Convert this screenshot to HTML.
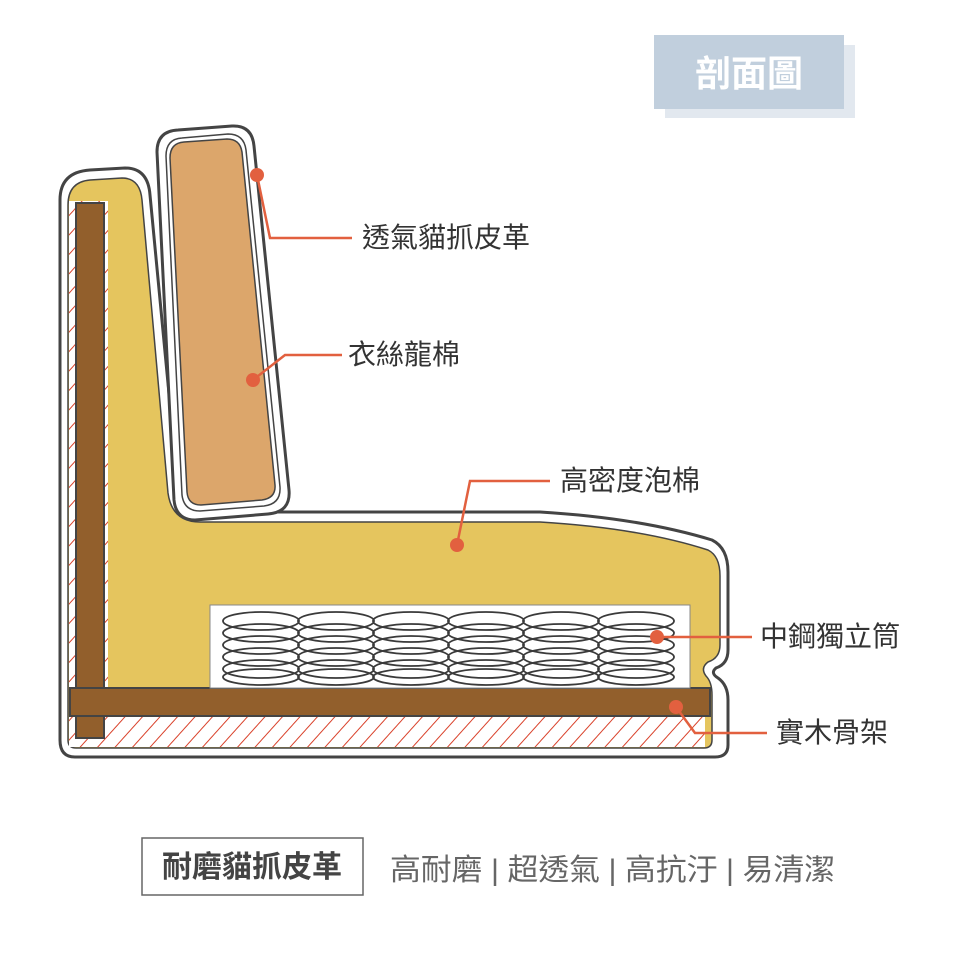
<!DOCTYPE html>
<html><head><meta charset="utf-8"><style>
html,body{margin:0;padding:0;background:#fff;}
svg{display:block;}
text{font-family:"Liberation Sans","Noto Sans CJK TC",sans-serif;}
</style></head><body>
<svg width="960" height="960" viewBox="0 0 960 960" xmlns="http://www.w3.org/2000/svg">
<defs>
<pattern id="hatch" width="13" height="13" patternUnits="userSpaceOnUse" patternTransform="rotate(42)">
<rect width="13" height="13" fill="#fff"/>
<line x1="0" y1="0" x2="0" y2="13" stroke="#d9412a" stroke-width="2"/>
</pattern>
</defs>
<!-- title -->
<rect x="665" y="45" width="190" height="73" fill="#e2e8ef"/>
<rect x="654" y="35" width="190" height="74" fill="#c1cfdd"/>
<text x="749" y="86" font-size="36" fill="#fff" text-anchor="middle" font-weight="bold">剖面圖</text>

<!-- body outline -->
<path d="M60,200 Q60,172 90,170 L125,168 Q148,168 150,195 L178,488 Q182,512 210,512 L540,512 Q640,518 712,540 Q728,548 728,572 L728,650 Q728,664 716,668 Q710,673 718,678 Q728,685 728,700 L728,745 Q728,757 715,757 L75,757 Q60,757 60,740 Z" fill="#fff" stroke="#444" stroke-width="3"/>
<!-- yellow foam -->
<path d="M68,205 Q68,182 90,180 L122,178 Q140,178 142,200 L168,493 Q172,522 200,522 L540,522 Q640,528 708,550 Q720,556 720,576 L720,645 Q720,658 708,662 Q700,668 706,676 Q712,682 712,695 L712,740 Q712,748 704,748 L76,748 Q68,748 68,740 Z" fill="#e5c55e" stroke="#444" stroke-width="1.5"/>
<!-- hatch -->
<rect x="69" y="201" width="39" height="546" fill="url(#hatch)"/>
<rect x="69" y="716" width="636" height="31" fill="url(#hatch)"/>
<!-- wood -->
<rect x="76" y="203" width="28" height="535" fill="#925f2c" stroke="#444" stroke-width="2"/>
<rect x="70" y="688" width="640" height="28" fill="#925f2c" stroke="#444" stroke-width="2"/>
<!-- spring box -->
<rect x="210" y="605" width="480" height="83" fill="#fff" stroke="#888" stroke-width="1"/>
<g fill="none" stroke="#3a3a3a" stroke-width="1.8">
<g id="col">
<ellipse cx="261" cy="621" rx="38" ry="9"/>
<ellipse cx="261" cy="633" rx="38" ry="9"/>
<ellipse cx="261" cy="645" rx="38" ry="9"/>
<ellipse cx="261" cy="657" rx="38" ry="9"/>
<ellipse cx="261" cy="669" rx="38" ry="9"/>
<ellipse cx="261" cy="677" rx="38" ry="8"/>
</g>
<use href="#col" x="75"/>
<use href="#col" x="150"/>
<use href="#col" x="225"/>
<use href="#col" x="300"/>
<use href="#col" x="375"/>
</g>

<!-- cushion -->
<path d="M157,152 Q157,131 178,130 L232,126 Q252,125 254,146 L289,490 Q291,512 268,514 L195,520 Q176,520 174,500 Z" fill="#fff" stroke="#444" stroke-width="3"/>
<path d="M166,156 Q166,139 182,138 L228,134 Q244,134 246,150 L280,487 Q281,504 264,506 L200,511 Q184,511 182,495 Z" fill="#fff" stroke="#444" stroke-width="1.5"/>
<path d="M170,158 Q170,143 184,142 L227,139 Q240,139 242,152 L275,485 Q276,498 262,500 L201,505 Q188,505 187,492 Z" fill="#dca66b" stroke="#444" stroke-width="1.5"/>

<!-- leaders -->
<g stroke="#e2603f" stroke-width="2.5" fill="none">
<polyline points="257,175 270,238 352,238"/>
<polyline points="253,380 285,355 342,355"/>
<polyline points="457,545 470,481 550,481"/>
<polyline points="657,637 752,637"/>
<polyline points="676,707 695,733 767,733"/>
</g>
<g fill="#e2603f">
<circle cx="257" cy="175" r="7"/>
<circle cx="253" cy="380" r="7"/>
<circle cx="457" cy="545" r="7"/>
<circle cx="657" cy="637" r="7"/>
<circle cx="676" cy="707" r="7"/>
</g>
<g font-size="28" fill="#333">
<text x="362" y="247">透氣貓抓皮革</text>
<text x="348" y="364">衣絲龍棉</text>
<text x="560" y="490">高密度泡棉</text>
<text x="760" y="646">中鋼獨立筒</text>
<text x="776" y="742">實木骨架</text>
</g>

<!-- bottom -->
<rect x="142" y="838" width="221" height="57" fill="#fff" stroke="#666" stroke-width="1.5"/>
<text x="252" y="877" font-size="30" fill="#444" text-anchor="middle" font-weight="bold">耐磨貓抓皮革</text>
<text x="390" y="880" font-size="30" fill="#666" textLength="445" lengthAdjust="spacingAndGlyphs">高耐磨 | 超透氣 | 高抗汙 | 易清潔</text>
</svg>
</body></html>
